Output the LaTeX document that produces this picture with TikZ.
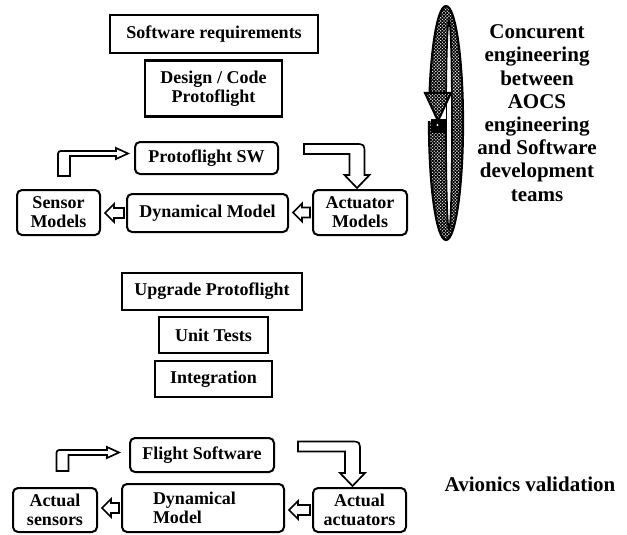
\documentclass[tikz,border=0pt]{standalone}
\usepackage{fontspec}
\setmainfont{Liberation Serif}
\usetikzlibrary{calc,patterns.meta}

% fonts for the boxes and for the side notes
\newcommand\boxfnt{\fontsize{18}{19}\selectfont\bfseries}
\newcommand\notefnt{\fontsize{21}{23.2}\selectfont\bfseries}

% hollow arrow: up from #1, then right to the tip #2
\newcommand\bendup[2]{%
  \path[hollow] let \p1=(#1), \p2=(#2) in
    (\x1-6pt,\y1) -- (\x1-6pt,\y2-3.5pt)
    .. controls (\x1-6pt,\y2+2.5pt) .. (\x1,\y2+2.5pt)
    -- (\x2-12pt,\y2+2.5pt) -- (\x2-12pt,\y2+5.5pt) -- (\x2,\y2)
    -- (\x2-12pt,\y2-5.5pt) -- (\x2-12pt,\y2-2.5pt)
    -- (\x1+6pt,\y2-2.5pt) -- (\x1+6pt,\y1) -- cycle;}

% hollow arrow: right from #1, then down to the tip #2
\newcommand\benddown[2]{%
  \path[hollow] let \p1=(#1), \p2=(#2) in
    (\x1,\y1+5pt) -- (\x2-2.5pt,\y1+5pt)
    .. controls (\x2+7.5pt,\y1+5pt) .. (\x2+7.5pt,\y1-5pt)
    -- (\x2+7.5pt,\y2+13pt) -- (\x2+12.5pt,\y2+13pt) -- (\x2,\y2)
    -- (\x2-12.5pt,\y2+13pt) -- (\x2-7.5pt,\y2+13pt)
    -- (\x2-7.5pt,\y1-5pt) -- (\x1,\y1-5pt) -- cycle;}

% short hollow block arrow pointing from node #2 to node #1 (leftwards)
\newcommand\leftblock[2]{%
  \path[hollow] let \p1=($(#1.east)+(4pt,0)$), \p2=($(#2.west)+(-2pt,0)$) in
    (\x1,\y2) -- (\x1+9pt,\y2+9pt) -- (\x1+9pt,\y2+5pt) -- (\x2,\y2+5pt)
    -- (\x2,\y2-5pt) -- (\x1+9pt,\y2-5pt) -- (\x1+9pt,\y2-9pt) -- cycle;}

\begin{document}
\begin{tikzpicture}[x=1pt,y=1pt,
  sqbox/.style={draw, line width=2.6pt, inner sep=0pt, align=center, font=\boxfnt},
  rbox/.style={draw, line width=2pt, rounded corners=5pt, inner sep=0pt, align=center, font=\boxfnt},
  hollow/.style={draw, line width=1.7pt, fill=white, line join=miter},
  hatchA/.style={pattern={Lines[angle=45,distance=2.3pt,line width=1.05pt]}},
  hatchB/.style={pattern={Lines[angle=-45,distance=2.3pt,line width=1.05pt]}}]
\useasboundingbox (0,0) rectangle (627,-535);

% --- protoflight phase
\node[sqbox, minimum width=208, minimum height=38] (req) at (214,-34) {Software requirements};
\node[sqbox, minimum width=137, minimum height=56] (design) at (213.5,-88.5) {Design / Code\\Protoflight};
\node[rbox, minimum width=143, minimum height=32] (psw) at (206.5,-158) {Protoflight SW};
\node[rbox, minimum width=83, minimum height=45] (sens) at (58.5,-212.5) {Sensor\\Models};
\node[rbox, minimum width=161, minimum height=38] (dyn) at (207.5,-213) {Dynamical Model};
\node[rbox, minimum width=94, minimum height=45] (act) at (360,-212.5) {Actuator\\Models};

\bendup{$(sens.north)+(5.5pt,13pt)$}{$(psw.west)+(-6pt,4.5pt)$}
\benddown{$(psw.north east)+(25pt,-8pt)$}{$(act.north)+(-3pt,1pt)$}
\leftblock{sens}{dyn}
\leftblock{dyn}{act}

% --- flight software steps
\node[sqbox, minimum width=180, minimum height=37] (upg) at (212,-291.5) {Upgrade Protoflight};
\node[sqbox, minimum width=109, minimum height=36] (unit) at (213.5,-335) {Unit Tests};
\node[sqbox, minimum width=117, minimum height=36] (integ) at (213.5,-379) {Integration};

% --- avionics loop
\node[rbox, minimum width=144, minimum height=34] (fsw) at (202,-455) {Flight Software};
\node[rbox, minimum width=84, minimum height=44] (asens) at (55,-510) {Actual\\sensors};
\node[rbox, minimum width=162, minimum height=48, text width=100pt, inner xsep=31pt, align=left] (dyn2) at (203,-508) {Dynamical\\Model};
\node[rbox, minimum width=93, minimum height=44] (aact) at (359.5,-510) {Actual\\actuators};

\bendup{$(asens.north)+(7.5pt,16pt)$}{$(fsw.west)+(-10pt,2.5pt)$}
\benddown{$(fsw.north east)+(23pt,-9.5pt)$}{$(aact.north)+(-7pt,1pt)$}
\leftblock{asens}{dyn2}
\leftblock{dyn2}{aact}

% --- hatched loop ribbon with its arrow
\path[even odd rule, hatchA] (446,-123) ellipse [x radius=17pt, y radius=117pt]
  (449,-125) ellipse [x radius=3pt, y radius=105pt];
\path[even odd rule, hatchB] (446,-123) ellipse [x radius=17pt, y radius=117pt]
  (449,-125) ellipse [x radius=3pt, y radius=105pt];
\draw[line width=2.2pt] (446,-123) ellipse [x radius=17pt, y radius=117pt];
\draw[line width=1.6pt] (449,-125) ellipse [x radius=3pt, y radius=105pt];
\fill[white] (427,-94) rectangle (446,-121);
\path[hatchA] (425,-93) -- (451,-93) -- (438,-121) -- cycle;
\path[hatchB] (425,-93) -- (451,-93) -- (438,-121) -- cycle;
\draw[line width=2pt, line join=miter] (425,-93) -- (451,-93) -- (438,-121) -- cycle;
\fill (431,-119) rectangle (446,-133);
\fill[white] (437.5,-125) circle (1.2pt);

% --- side notes
\node[font=\notefnt, align=center] (team) at (537,-113)
  {Concurent\\engineering\\between\\AOCS\\engineering\\and Software\\development\\teams};
\node[font=\notefnt, anchor=base] (avion) at (530,-491) {Avionics validation};
\end{tikzpicture}
\end{document}
